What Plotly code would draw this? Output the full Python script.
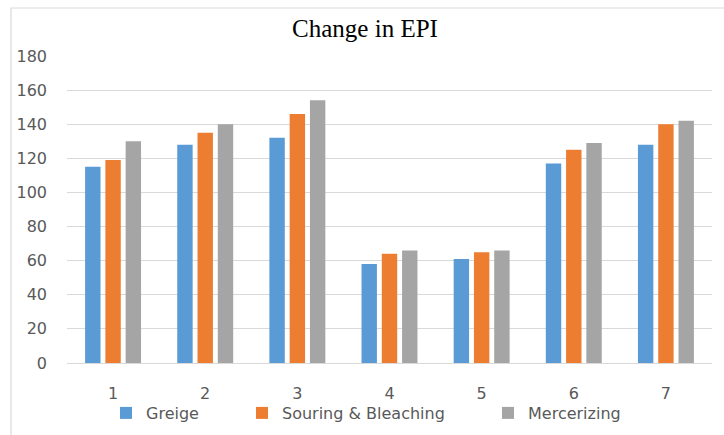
import plotly.graph_objects as go

# Data
categories = ["1", "2", "3", "4", "5", "6", "7"]
greige = [115, 128, 132, 58, 61, 117, 128]
scouring_bleaching = [119, 135, 146, 64, 65, 125, 140]
mercerizing = [130, 140, 154, 66, 66, 129, 142]
series_names = ["Greige", "Souring & Bleaching", "Mercerizing"]
y_ticks = [0, 20, 40, 60, 80, 100, 120, 140, 160, 180]

colors = ["#5B9BD5", "#ED7D31", "#A5A5A5"]
label_font = dict(family="DejaVu Sans, sans-serif", size=16, color="#595959")

W, H = 724, 435
L, R, T, B = 67, 12, 56, 72
plot_w = W - L - R
plot_h = H - T - B

def px_to_paper_x(px):
    return (px - L) / plot_w

def px_to_paper_y(py):
    return (H - B - py) / plot_h

fig = go.Figure()
legend_ids = ["legend", "legend2", "legend3"]
for name, vals, col, lg in zip(series_names,
                               [greige, scouring_bleaching, mercerizing],
                               colors, legend_ids):
    fig.add_trace(go.Bar(
        x=categories, y=vals, name=name,
        marker=dict(color=col, line=dict(width=0)),
        legend=lg,
    ))

# one legend per series so each entry sits at its own spot
legend_left_px = [106, 242, 488]
legend_common = dict(
    orientation="h", yanchor="middle", xanchor="left",
    y=px_to_paper_y(413), font=label_font,
    bgcolor="rgba(0,0,0,0)", borderwidth=0,
    itemwidth=30, tracegroupgap=0,
)
legends = {}
for lg, lx in zip(legend_ids, legend_left_px):
    legends[lg] = dict(legend_common, x=px_to_paper_x(lx))

fig.update_layout(
    width=W, height=H,
    margin=dict(l=L, r=R, t=T, b=B, pad=0, autoexpand=False),
    paper_bgcolor="white", plot_bgcolor="white",
    barmode="group", bargap=0.34, bargroupgap=0.24,
    title=dict(
        text="Change in EPI",
        x=365 / W, xanchor="center", y=1 - 28 / H, yanchor="middle",
        font=dict(family="Liberation Serif, Times New Roman, serif", size=25, color="#000000"),
    ),
    xaxis=dict(
        showgrid=False, showline=True, linecolor="#D9D9D9", linewidth=1,
        ticks="", tickfont=label_font, ticklabelstandoff=16,
        zeroline=False,
    ),
    yaxis=dict(
        range=[0, 180], tickvals=y_ticks, showgrid=True,
        gridcolor="#D9D9D9", gridwidth=1, zeroline=False,
        showline=False, ticks="", tickfont=label_font,
        ticklabelstandoff=19,
    ),
    showlegend=True,
    **legends,
    shapes=[dict(
        type="rect", xref="paper", yref="paper",
        x0=px_to_paper_x(11), x1=px_to_paper_x(740),
        y0=px_to_paper_y(450), y1=px_to_paper_y(8),
        line=dict(color="#D9D9D9", width=1.2), fillcolor="rgba(0,0,0,0)",
        layer="below",
    )],
)

fig.write_html("out.html")
